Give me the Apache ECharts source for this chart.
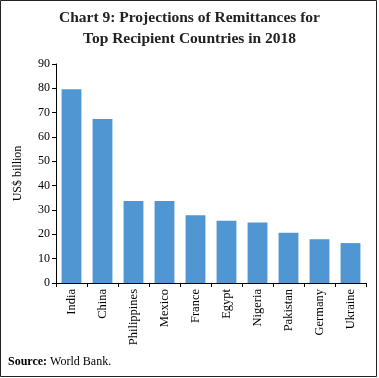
<!DOCTYPE html>
<html>
<head>
<meta charset="utf-8">
<script src="https://cdn.jsdelivr.net/npm/echarts@6/dist/echarts.min.js"></script>
<style>
  html, body { margin: 0; padding: 0; background: #fff; }
  #chart { width: 379px; height: 378px; }
</style>
</head>
<body>
<div id="chart"></div>
<script>
const countries = ['India', 'China', 'Philippines', 'Mexico', 'France', 'Egypt', 'Nigeria', 'Pakistan', 'Germany', 'Ukraine']
const remittances = [79.6, 67.4, 33.7, 33.7, 27.8, 25.6, 24.9, 20.7, 18.0, 16.4]

const font = 'Liberation Serif'
const chart = echarts.init(document.getElementById('chart'))

chart.setOption({
  animation: false,
  textStyle: { fontFamily: font, color: '#000' },
  title: {
    text: 'Chart 9: Projections of Remittances for\nTop Recipient Countries in 2018',
    left: 'center',
    top: 2,
    textStyle: { fontFamily: font, fontSize: 15.5, fontWeight: 'bold', color: '#222', lineHeight: 21 },
  },
  graphic: [
    {
      type: 'rect',
      shape: { x: 0.5, y: 0.5, width: 376, height: 376 },
      style: { fill: 'none', stroke: '#222', lineWidth: 1 },
    },
    {
      type: 'text',
      left: 8,
      top: 356,
      style: {
        text: '{b|Source:} World Bank.',
        font: '12px "Liberation Serif"',
        fill: '#000',
        rich: { b: { fontWeight: 'bold', fontFamily: font, fontSize: 12 } },
      },
    },
  ],
  grid: { left: 56, right: 13, top: 64, bottom: 95 },
  xAxis: {
    type: 'category',
    data: countries,
    axisLine: { lineStyle: { color: '#000', width: 1 } },
    axisTick: { show: true, length: 4, lineStyle: { color: '#000' } },
    axisLabel: { rotate: 90, fontSize: 12.5, color: '#000', margin: 6, fontFamily: font },
  },
  yAxis: {
    type: 'value',
    min: 0,
    max: 90,
    interval: 10,
    name: 'US$ billion',
    nameLocation: 'middle',
    nameGap: 32,
    nameTextStyle: { fontSize: 12, color: '#000', fontFamily: font },
    axisLine: { show: true, lineStyle: { color: '#000', width: 1 } },
    axisTick: { show: true, length: 4, lineStyle: { color: '#000' } },
    axisLabel: { fontSize: 12, color: '#000', margin: 6, fontFamily: font },
    splitLine: { show: false },
  },
  series: [
    {
      type: 'bar',
      data: remittances,
      barCategoryGap: '36%',
      itemStyle: { color: '#5096d3' },
    },
  ],
})
</script>
</body>
</html>
